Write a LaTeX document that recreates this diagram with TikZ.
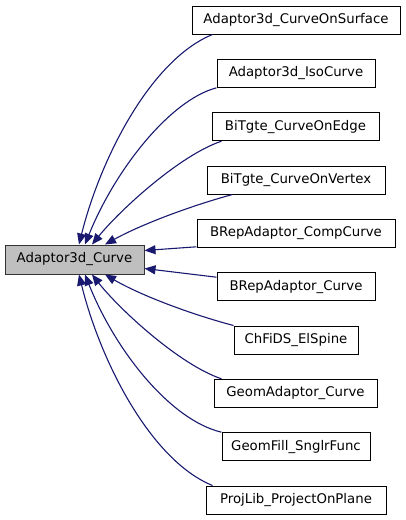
\documentclass[tikz,border=0pt]{standalone}
\usepackage{fontspec}
\setmainfont{DejaVu Sans}
\usetikzlibrary{arrows.meta}
\definecolor{edgeblue}{HTML}{191970}
\definecolor{mainfill}{HTML}{BFBFBF}
\tikzset{
  cls/.style={draw=black, line width=1pt, minimum height=28pt, inner sep=0pt,
    font=\fontsize{13.3}{16}\selectfont, text=black},
  edge/.style={draw=edgeblue, line width=1.1pt, -{Triangle[length=11pt,width=9pt,fill=edgeblue]}},
}
\begin{document}
\begin{tikzpicture}[x=1pt,y=-1pt]
\useasboundingbox (0,0) rectangle (405,520);
\node[cls, fill=mainfill, draw=black!80, minimum width=139pt, minimum height=29pt] (main) at (74.5,259.5) {Adaptor3d\_Curve};
\node[cls, minimum width=208pt] (b1) at (296,20) {Adaptor3d\_CurveOnSurface};
\node[cls, minimum width=158pt] (b2) at (296,73.3) {Adaptor3d\_IsoCurve};
\node[cls, minimum width=167pt] (b3) at (295.5,126.7) {BiTgte\_CurveOnEdge};
\node[cls, minimum width=178pt] (b4) at (296,180) {BiTgte\_CurveOnVertex};
\node[cls, minimum width=198pt] (b5) at (296,233.3) {BRepAdaptor\_CompCurve};
\node[cls, minimum width=158pt] (b6) at (296,286.7) {BRepAdaptor\_Curve};
\node[cls, minimum width=124pt] (b7) at (296,340) {ChFiDS\_ElSpine};
\node[cls, minimum width=163pt] (b8) at (295.5,393.3) {GeomAdaptor\_Curve};
\node[cls, minimum width=148pt] (b9) at (296,446.7) {GeomFill\_SnglrFunc};
\node[cls, minimum width=180pt] (b10) at (296,500) {ProjLib\_ProjectOnPlane};

\draw[edge] ([xshift=21pt]b1.south west) .. controls (150,60) and (100,160) .. ([xshift=4.5pt]main.north);
\draw[edge] (b2.south west) .. controls (170,100) and (115,170) .. ([xshift=10.5pt]main.north);
\draw[edge] ([xshift=10pt]b3.south west) .. controls (180,155) and (120,210) .. ([xshift=17.5pt]main.north);
\draw[edge] ([xshift=26pt]b4.south west) .. controls (190,206) and (140,225) .. ([xshift=30.5pt]main.north);
\draw[edge] ([yshift=1pt]b5.south west) -- ([yshift=9pt]main.east);
\draw[edge] ([yshift=-5pt]b6.north west) -- ([yshift=-9pt]main.east);
\draw[edge] (b7.north west) .. controls (190,314) and (140,295) .. ([xshift=30.5pt]main.south);
\draw[edge] ([xshift=8pt]b8.north west) .. controls (180,365) and (120,310) .. ([xshift=17.5pt]main.south);
\draw[edge] (b9.north west) .. controls (170,420) and (115,350) .. ([xshift=10.5pt]main.south);
\draw[edge] ([xshift=7pt]b10.north west) .. controls (150,460) and (100,360) .. ([xshift=4.5pt]main.south);
\end{tikzpicture}
\end{document}
